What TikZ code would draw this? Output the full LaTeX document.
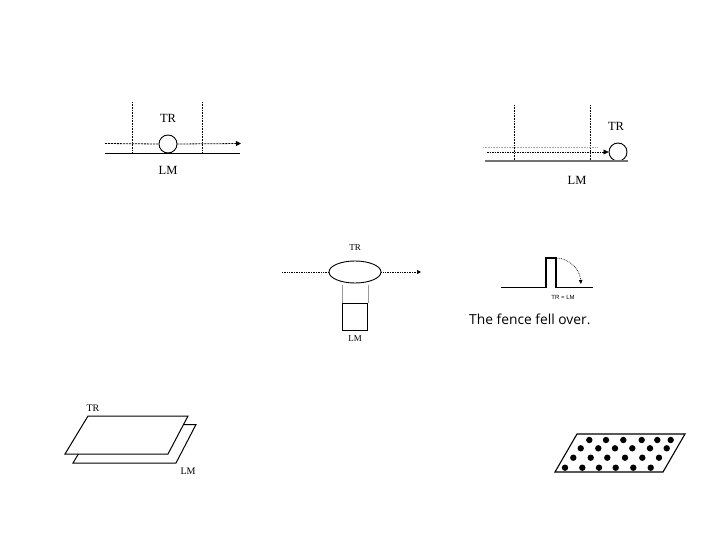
\documentclass[tikz,border=0pt]{standalone}
\usepackage{fontspec}
\setmainfont{Liberation Serif}
\newfontfamily\capfont{Open Sans}
\newfontfamily\smallsans{Liberation Sans}
\usetikzlibrary{arrows.meta,shapes.geometric}
\begin{document}
\begin{tikzpicture}[x=1pt,y=-1pt,
  lbl/.style={inner sep=0pt,font=\fontsize{12.5}{12.5}\selectfont},
  lblsmall/.style={inner sep=0pt,font=\fontsize{9}{9}\selectfont},
  vdot/.style={densely dotted,line width=0.6pt},
  hdash/.style={dash pattern=on 2pt off 1pt,line width=0.8pt},
  arr/.style={-{Triangle[length=5pt,width=5pt]}},
  thin line/.style={line width=0.9pt}]
\useasboundingbox (0,0) rectangle (720,540);
% ---------- Panel 1 ----------
\coordinate (p1a) at (132,102); \coordinate (p1b) at (132,153);
\coordinate (p1c) at (202,102); \coordinate (p1d) at (202,153);
\draw[vdot] (p1a) -- (p1b);
\draw[vdot] (p1c) -- (p1d);
\node[draw,circle,minimum size=18pt,inner sep=0pt,line width=0.9pt,fill=white] (c1) at (168,144) {};
\coordinate (p1s) at (105,143.5); \coordinate (p1e) at (241,143.5);
\draw[hdash] (p1s) -- (c1.west);
\draw[hdash,arr] (c1.east) -- (p1e);
\coordinate (p1l) at (105,153.5); \coordinate (p1r) at (240,153.5);
\draw[thin line] (p1l) -- (p1r);
\node[lbl] (tr1) at (168,118) {TR};
\node[lbl] (lm1) at (168,170) {LM};
% ---------- Panel 2 ----------
\coordinate (p2a) at (514,105); \coordinate (p2b) at (514,161);
\coordinate (p2c) at (590,105); \coordinate (p2d) at (590,161);
\draw[vdot] (p2a) -- (p2b);
\draw[vdot] (p2c) -- (p2d);
\coordinate (p2f1) at (483,147); \coordinate (p2f2) at (598,147);
\draw[densely dotted,black!35,line width=0.6pt] (p2f1) -- (p2f2);
\node[draw,circle,minimum size=18pt,inner sep=0pt,line width=0.9pt] (c2) at (618,152) {};
\coordinate (p2s) at (487,152);
\draw[dash pattern=on 1.5pt off 1pt,line width=0.6pt,arr] (p2s) -- (c2.west);
\coordinate (p2l) at (485,161); \coordinate (p2r) at (628,161);
\draw[line width=1.1pt,black!55] (p2l) -- (p2r);
\node[lbl] (tr2) at (616,126) {TR};
\node[lbl] (lm2) at (577,180) {LM};
% ---------- Panel 3 ----------
\node[draw,ellipse,minimum width=52pt,minimum height=22pt,inner sep=0pt,line width=0.9pt] (e3) at (355,272) {};
\coordinate (p3s) at (282,272); \coordinate (p3e) at (421,272);
\draw[densely dotted,line width=0.7pt] (p3s) -- (e3.west);
\draw[densely dotted,line width=0.7pt,-{Triangle[length=4pt,width=4pt]}] (e3.east) -- (p3e);
\node[draw,minimum width=25.5pt,minimum height=26.5pt,inner sep=0pt,line width=0.8pt,anchor=north] (sq3) at (355,303) {};
\draw[line width=1.6pt] (sq3.south west) -- (sq3.south east);
\draw[black!40,line width=0.4pt] (sq3.north west) -- ++(0,-18);
\draw[black!40,line width=0.4pt] (sq3.north east) -- ++(0,-18);
\node[lblsmall] (tr3) at (355,248) {TR};
\node[lblsmall] (lm3) at (355,339) {LM};
% ---------- Panel 4 ----------
\coordinate (f0) at (501,287.5); \coordinate (f1) at (546,287.5);
\coordinate (f2) at (546,258); \coordinate (f3) at (556,258);
\coordinate (f4) at (556,287.5); \coordinate (f5) at (593,287.5);
\draw[line width=1.6pt,line join=miter] (f0) -- (f1) -- (f2) -- (f3) -- (f4) -- (f5);
\draw[densely dotted,line width=0.7pt,-{Triangle[length=4pt,width=3.5pt]}] (f3) arc[start angle=-90,end angle=-4,x radius=25,y radius=28];
\node[inner sep=0pt,font=\smallsans\fontsize{6}{6}\selectfont] (trlm) at (563,297) {TR = LM};
\node[inner sep=0pt,anchor=west,font=\capfont\fontsize{13.8}{14}\selectfont] (cap) at (469,319) {The fence fell over.};
% ---------- Panel 5 ----------
\draw[line width=1pt,fill=white] (73,463) -- (176,463) -- (196,424.5) -- (96,424.5) -- cycle;
\draw[line width=1pt,fill=white] (65,454) -- (168,454) -- (188,416) -- (88,416) -- cycle;
\node[inner sep=0pt,font=\fontsize{10}{10}\selectfont] (tr5) at (93,408) {TR};
\node[inner sep=0pt,font=\fontsize{10}{10}\selectfont] (lm5) at (188,471) {LM};
% ---------- Panel 6 ----------
\draw[line width=1.1pt] (555,472) -- (663,472) -- (685,434) -- (577,434) -- cycle;
\foreach \x in {589.3,606,623.3,641.7,657.3,670.7} \fill (\x,440) circle (3.2);
\foreach \x in {580.7,598.3,615,632.3,650,666.7} \fill (\x,448.3) circle (3.2);
\foreach \x in {573.3,590.7,607.3,625,642.3,659} \fill (\x,457.7) circle (3.2);
\foreach \x in {565,582.3,599,615.7,633.3,650.7} \fill (\x,467.7) circle (3.2);
\end{tikzpicture}
\end{document}
